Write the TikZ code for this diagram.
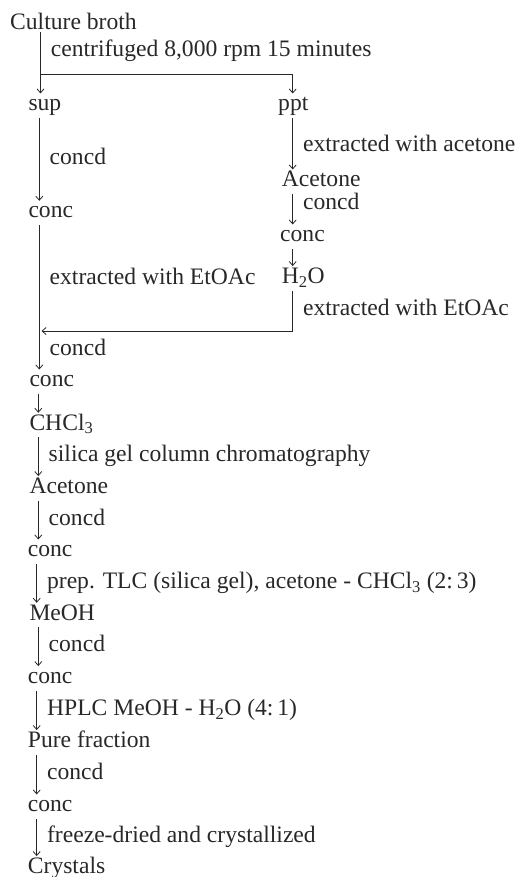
\documentclass[tikz,border=0pt]{standalone}
\usepackage{fontspec}
\setmainfont{Liberation Serif}
\usepackage{xcolor}
\usepackage{tikz}
\usetikzlibrary{arrows.meta}
\definecolor{InkGray}{RGB}{40,40,40}
\tikzset{
  stage/.style={anchor=base west, inner sep=0pt, text height=17pt, text depth=7pt,
    font=\fontsize{23.6}{28}\selectfont, text=InkGray},
  note/.style={right=10pt, inner sep=0pt, text height=17pt, text depth=7pt,
    font=\fontsize{23.6}{28}\selectfont, text=InkGray},
  rule/.style={draw=InkGray, line width=0.8pt},
  flow/.style={rule, -{Straight Barb[length=4pt,width=7pt]}}
}

\begin{document}
\begin{tikzpicture}[x=1pt, y=-1pt]
        \useasboundingbox (0,0) rectangle (520,877);
        % main column
        \node[stage] (broth) at (10,29.3) {Culture broth};
        \node[stage] (sup) at (28.3,110.7) {sup};
        \node[stage] (conc1) at (28.3,218) {conc};
        \node[stage] (conc3) at (29.3,386.7) {conc};
        \node[stage] (chcl) at (29.3,430) {CHCl\textsubscript{3}};
        \node[stage] (acet2) at (29.3,493.3) {Acetone};
        \node[stage] (conc4) at (27.7,556.7) {conc};
        \node[stage] (meoh) at (29.3,620) {MeOH};
        \node[stage] (conc5) at (27.7,683.3) {conc};
        \node[stage] (pure) at (27.7,747.3) {Pure fraction};
        \node[stage] (conc6) at (27.7,811.7) {conc};
        \node[stage] (cryst) at (27.7,873.3) {Crystals};
        % precipitate branch
        \node[stage] (ppt) at (278,110.7) {ppt};
        \node[stage] (acet1) at (281.7,186.7) {Acetone};
        \node[stage] (conc2) at (280,241.7) {conc};
        \node[stage] (water) at (281.7,283.3) {H\textsubscript{2}O};
        \coordinate (splitL) at (40.5,74.3);
        \coordinate (splitR) at (292.7,74.3);
        \coordinate (merge) at (41.5,331);
        % centrifugation
        \draw[rule] ([shift={(30.5pt,-3pt)}]broth.base west) -- node[note, pos=.45] {centrifuged 8,000 rpm 15 minutes} (splitL) -- (splitR);
        \draw[flow] (splitL) -- (splitL |- sup.north);
        \draw[flow] (splitR) -- (splitR |- ppt.north);
        % supernatant
        \draw[flow] ([xshift=11pt]sup.south west) -- node[note] {concd} ([xshift=11pt]sup.south west |- conc1.north);
        \draw[flow] ([xshift=11pt]conc1.south west) -- node[note, pos=.375] {extracted with EtOAc}
          node[note, pos=.87] {concd} ([xshift=11pt]conc1.south west |- conc3.north);
        % precipitate
        \draw[flow] (splitR |- ppt.south) -- node[note, pos=.55] {extracted with acetone} (splitR |- acet1.north);
        \draw[flow] (splitR |- acet1.south) -- node[note, pos=.35] {concd} (splitR |- conc2.north);
        \draw[flow] (splitR |- conc2.south) -- (splitR |- water.north);
        \draw[flow] (splitR |- water.south) -- node[note] {extracted with EtOAc} (splitR |- merge) -- (merge);
        % purification
        \draw[flow] ([xshift=9pt]conc3.south west) -- ([xshift=9pt]conc3.south west |- chcl.north);
        \draw[flow] ([xshift=9pt]chcl.south west) -- node[note] {silica gel column chromatography} ([xshift=9pt]chcl.south west |- acet2.north);
        \draw[flow] ([xshift=9pt]acet2.south west) -- node[note] {concd} ([xshift=9pt]acet2.south west |- conc4.north);
        \draw[flow] ([xshift=9pt]conc4.south west) -- node[note] {prep. TLC (silica gel), acetone - CHCl\textsubscript{3} (2:\,3)} ([xshift=9pt]conc4.south west |- meoh.north);
        \draw[flow] ([xshift=9pt]meoh.south west) -- node[note] {concd} ([xshift=9pt]meoh.south west |- conc5.north);
        \draw[flow] ([xshift=9pt]conc5.south west) -- node[note] {HPLC MeOH - H\textsubscript{2}O (4:\,1)} ([xshift=9pt]conc5.south west |- pure.north);
        \draw[flow] ([xshift=9pt]pure.south west) -- node[note] {concd} ([xshift=9pt]pure.south west |- conc6.north);
        \draw[flow] ([xshift=9pt]conc6.south west) -- node[note] {freeze-dried and crystallized} ([xshift=9pt]conc6.south west |- cryst.north);
      \end{tikzpicture}
\end{document}
